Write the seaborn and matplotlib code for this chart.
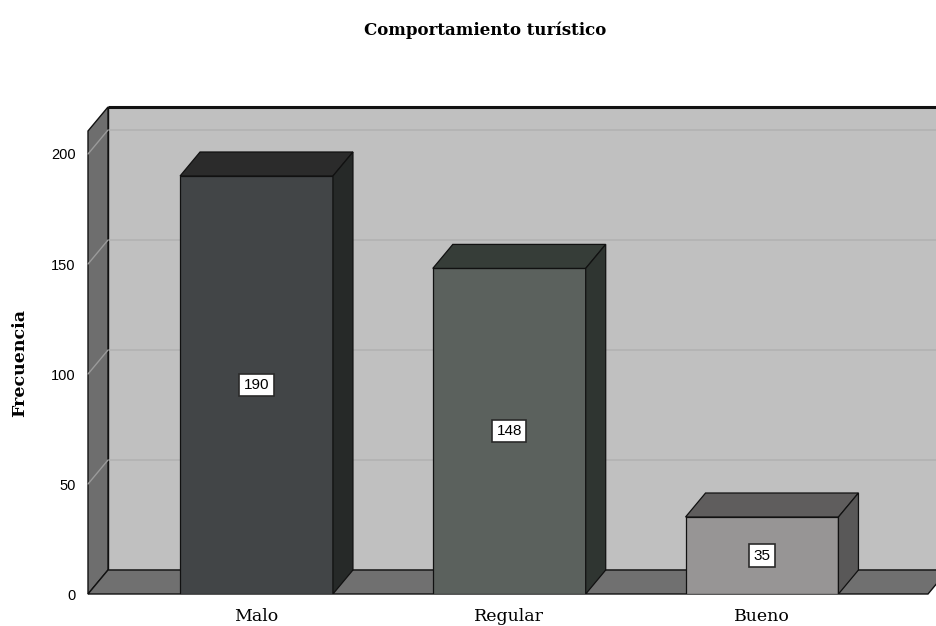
import matplotlib
matplotlib.use("Agg")
import matplotlib.pyplot as plt
from matplotlib.patches import Polygon
import seaborn as sns
import pandas as pd

# ---- data ----
categories = ["Malo", "Regular", "Bueno"]
values = [190, 148, 35]
yticks = [0, 50, 100, 150, 200]
title = "Comportamiento turístico"
ylabel = "Frecuencia"

front_colors = ["#414548", "#5a625c", "#979595"]
top_colors = ["#2b2b2b", "#363d38", "#5f5d5d"]
side_colors = ["#262928", "#2f3531", "#595858"]

sns.set_theme(style="white")
plt.rcParams["font.family"] = ["DejaVu Serif"]
plt.rcParams["text.color"] = "black"
plt.rcParams["xtick.color"] = "black"
plt.rcParams["ytick.color"] = "black"

W, H = 936, 626
fig = plt.figure(figsize=(W / 100, H / 100), dpi=100)
fig.patch.set_facecolor("white")
ax = fig.add_axes([88 / W, 32 / H, 848 / W, 487 / H])

px_per_cat = 252.75
x_left = (88 - 256.5) / px_per_cat
x_right_fig = (936 - 256.5) / px_per_cat
y_top = 487 / 2.2
OX = 20 / px_per_cat
OY = 24 / 2.2
x_floor_r = (928 - 256.5) / px_per_cat

ax.set_xlim(x_left, x_right_fig)
ax.set_ylim(0, y_top)
for s in ax.spines.values():
    s.set_visible(False)
ax.set_facecolor("none")

# back wall
back = Polygon([(x_left + OX, OY), (x_floor_r + OX + 1, OY), (x_floor_r + OX + 1, y_top),
                (x_left + OX, y_top)], closed=True, facecolor="#c0c0c0",
               edgecolor="#111111", linewidth=1.0, zorder=0, clip_on=False)
ax.add_patch(back)
ax.plot([x_left + OX, x_floor_r + OX + 1], [y_top, y_top], color="#111111", lw=2.2,
        zorder=0.6, clip_on=False, solid_capstyle="butt")
# gridlines
for v in yticks[1:]:
    ax.plot([x_left + OX, x_floor_r + OX + 1], [v + OY, v + OY], color="#b3b3b3",
            lw=1.3, zorder=0.2, clip_on=False)
# left wall
lw_poly = Polygon([(x_left, 0), (x_left, y_top - OY), (x_left + OX, y_top),
                   (x_left + OX, OY)], closed=True, facecolor="#6e6e6e",
                  edgecolor="#111111", linewidth=1.0, zorder=0.3, clip_on=False)
ax.add_patch(lw_poly)
for v in yticks[1:]:
    ax.plot([x_left, x_left + OX], [v, v + OY], color="#9a9a9a", lw=1.0,
            zorder=0.35, clip_on=False)
# floor
floor = Polygon([(x_left, 0), (x_floor_r, 0), (x_floor_r + OX, OY), (x_left + OX, OY)],
                closed=True, facecolor="#707070", edgecolor="#111111", linewidth=1.0,
                zorder=0.4, clip_on=False)
ax.add_patch(floor)

df = pd.DataFrame({"cat": categories, "val": values})
sns.barplot(data=df, x="cat", y="val", hue="cat", palette=dict(zip(categories, front_colors)),
            width=0.605, edgecolor="#111111", linewidth=0.9, legend=False, ax=ax, zorder=2)
ax.set_xlim(x_left, x_right_fig)
ax.set_ylim(0, y_top)

bars = [b for c in ax.containers for b in c]
for i, b in enumerate(bars):
    x0 = b.get_x()
    x1 = x0 + b.get_width()
    h = b.get_height()
    top = Polygon([(x0, h), (x1, h), (x1 + OX, h + OY), (x0 + OX, h + OY)], closed=True,
                  facecolor=top_colors[i], edgecolor="#111111", linewidth=0.9, zorder=2.1)
    side = Polygon([(x1, 0), (x1, h), (x1 + OX, h + OY), (x1 + OX, OY)], closed=True,
                   facecolor=side_colors[i], edgecolor="#111111", linewidth=0.9, zorder=2.1)
    ax.add_patch(top)
    ax.add_patch(side)
    ax.text(x0 + b.get_width() / 2, h / 2, str(values[i]), ha="center", va="center",
            fontsize=11, family=["Liberation Sans"], color="black", zorder=3,
            bbox=dict(boxstyle="square,pad=0.28", facecolor="white", edgecolor="#2a2a2a",
                      linewidth=1.2))

ax.set_yticks(yticks)
ax.set_yticklabels([str(t) for t in yticks], family=["Liberation Sans"], fontsize=10.5)
ax.tick_params(axis="y", length=0, pad=9, labelcolor="black")
ax.set_xticks(range(len(categories)))
ax.set_xticklabels(categories, fontsize=12.5)
ax.tick_params(axis="x", length=0, pad=10, labelcolor="black")
ax.set_xlabel("")
ax.set_ylabel("")

fig.text(485 / W, 1 - 30 / H, title, ha="center", va="center", fontsize=12,
         fontweight="bold", color="black")
fig.text(20 / W, 1 - 363 / H, ylabel, ha="center", va="center", rotation=90,
         fontsize=12.5, fontweight="bold", color="black")

fig.savefig("out.png", dpi=100, facecolor="white")
